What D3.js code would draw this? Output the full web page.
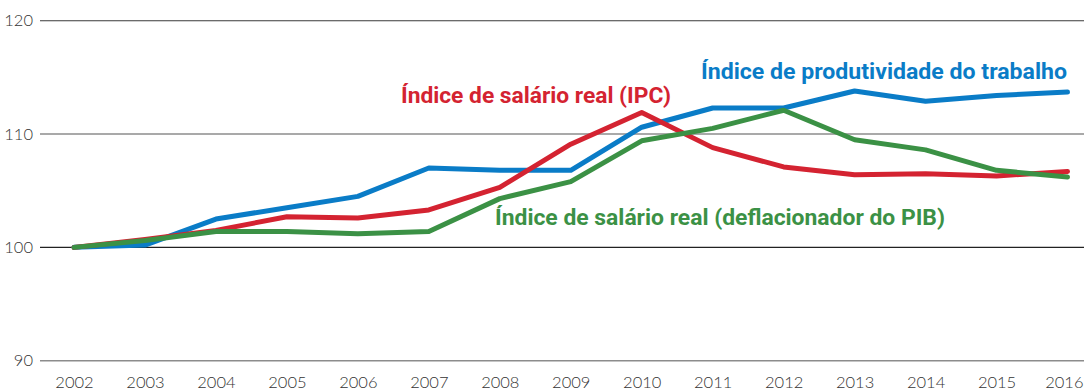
<!DOCTYPE html>
<html>
<head>
<meta charset="utf-8">
<script src="https://cdn.jsdelivr.net/npm/d3@7"></script>
<style>
  html, body { margin: 0; padding: 0; background: #fff; }
  svg { display: block; }
</style>
</head>
<body>
<svg id="chart" width="1084" height="391"></svg>
<script>
// Annual index values, 2002 = 100
const years = [2002, 2003, 2004, 2005, 2006, 2007, 2008, 2009, 2010, 2011, 2012, 2013, 2014, 2015, 2016];
const produtividade = [100, 100.2, 102.5, 103.5, 104.5, 107.0, 106.8, 106.8, 110.6, 112.3, 112.3, 113.8, 112.9, 113.4, 113.7];
const salarioIPC    = [100, 100.7, 101.5, 102.7, 102.6, 103.3, 105.3, 109.1, 111.9, 108.8, 107.1, 106.4, 106.5, 106.3, 106.7];
const salarioPIB    = [100, 100.6, 101.4, 101.4, 101.2, 101.4, 104.3, 105.8, 109.4, 110.5, 112.1, 109.5, 108.6, 106.8, 106.2];
const yTicks = [90, 100, 110, 120];

const series = [
  { name: "Índice de produtividade do trabalho", values: produtividade, color: "#0a7cc7" },
  { name: "Índice de salário real (IPC)", values: salarioIPC, color: "#d42331" },
  { name: "Índice de salário real (deflacionador do PIB)", values: salarioPIB, color: "#3b9145" }
];

const svg = d3.select("#chart");
const W = 1084;

const x = d3.scalePoint().domain(years).range([74, 1067.5]);
const y = d3.scaleLinear().domain([90, 120]).range([360.7, 20.7]);

// Horizontal gridlines with value labels
const gridColor = { 120: "#3a3a3a", 110: "#8c8c8c", 100: "#222", 90: "#8c8c8c" };
const gridWidth = { 120: 1.1, 110: 1.6, 100: 1.2, 90: 1.6 };
const grid = svg.append("g");
grid.selectAll("line").data(yTicks).join("line")
  .attr("x1", 40).attr("x2", W)
  .attr("y1", d => y(d)).attr("y2", d => y(d))
  .attr("stroke", d => gridColor[d])
  .attr("stroke-width", d => gridWidth[d]);

const tickFont = g => g.selectAll("text")
  .attr("font-family", "Lato, 'Open Sans', sans-serif")
  .attr("font-weight", 300)
  .attr("font-size", 16.5)
  .attr("fill", "#333");

const yAxis = d3.axisLeft(y).tickValues(yTicks).tickSize(0).tickPadding(0);
svg.append("g")
  .attr("transform", "translate(33,0)")
  .call(yAxis)
  .call(g => g.select(".domain").remove())
  .call(tickFont);

const xAxis = d3.axisBottom(x).tickSize(0).tickPadding(0);
svg.append("g")
  .attr("transform", "translate(0,376)")
  .call(xAxis)
  .call(g => g.select(".domain").remove())
  .call(tickFont)
  // keep the last year inside the right edge
  .call(g => g.selectAll(".tick").filter(d => d === years[years.length - 1])
    .select("text").attr("text-anchor", "end").attr("x", 1083 - x(years[years.length - 1])));

// Series lines
const line = d3.line()
  .x((d, i) => x(years[i]))
  .y(d => y(d));

svg.append("g").selectAll("path").data(series).join("path")
  .attr("d", d => line(d.values))
  .attr("fill", "none")
  .attr("stroke", d => d.color)
  .attr("stroke-width", 5)
  .attr("stroke-linecap", "round")
  .attr("stroke-linejoin", "round");

// Direct series labels in a condensed bold face
const labels = [
  { s: series[0], x: 701, y: 78.5, w: 366 },
  { s: series[1], x: 401, y: 102.5, w: 270 },
  { s: series[2], x: 495, y: 225, w: 450 }
];
svg.append("g").selectAll("text").data(labels).join("text")
  .attr("x", d => d.x).attr("y", d => d.y)
  .attr("font-family", "Roboto, 'Open Sans', sans-serif")
  .attr("font-weight", 700)
  .attr("font-size", 22)
  .attr("textLength", d => d.w)
  .attr("lengthAdjust", "spacingAndGlyphs")
  .attr("fill", d => d.s.color)
  .text(d => d.s.name);
</script>
</body>
</html>
